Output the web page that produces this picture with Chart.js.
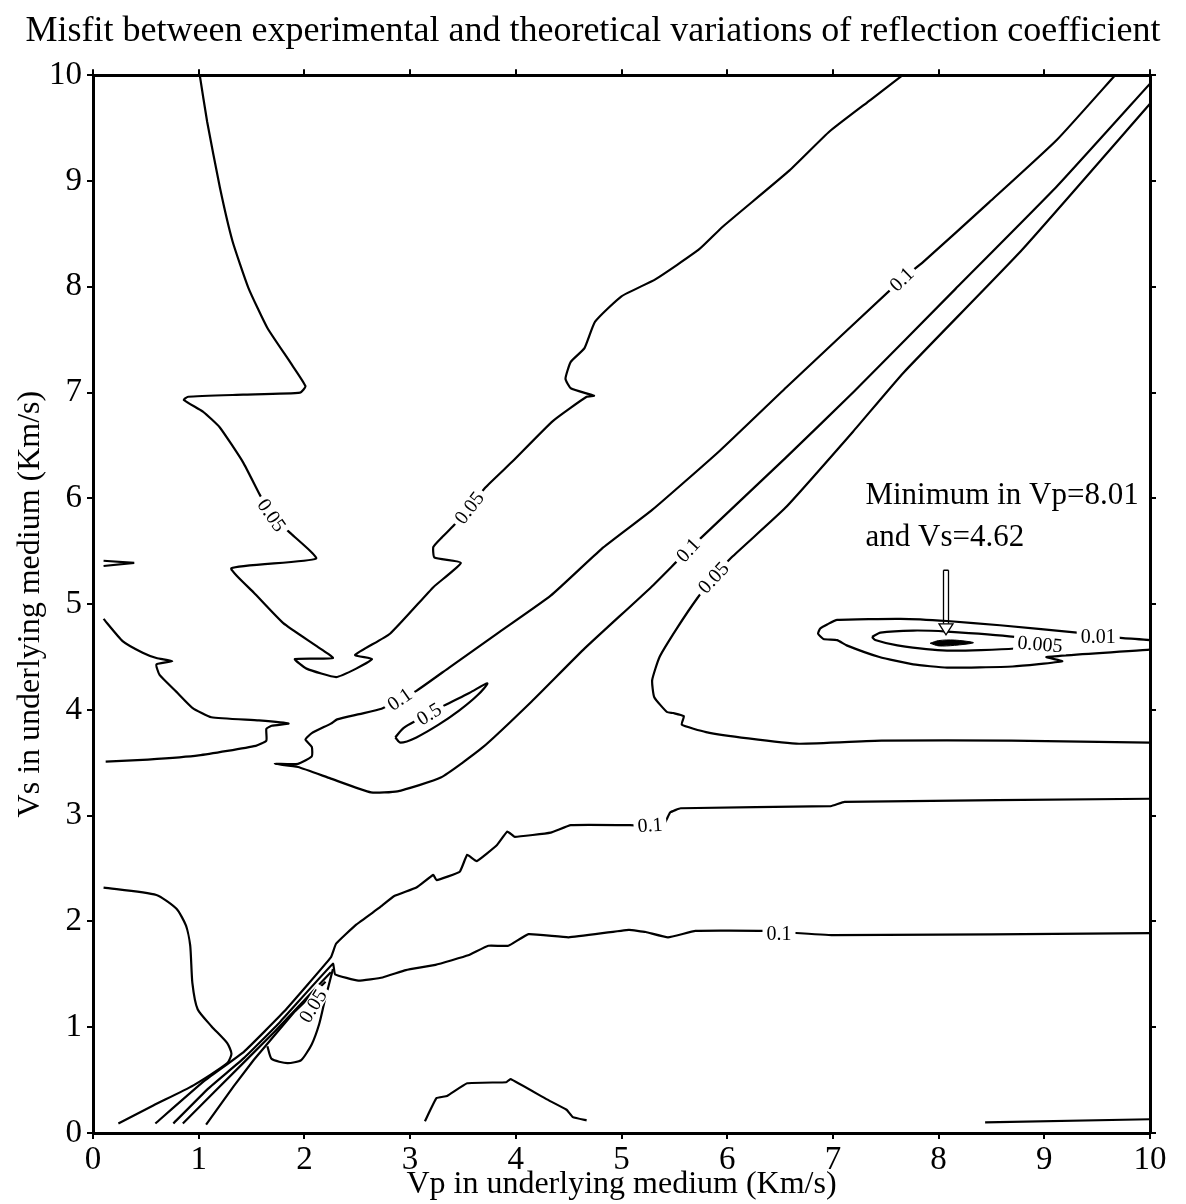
<!DOCTYPE html>
<html>
<head>
<meta charset="utf-8">
<title>Misfit contours</title>
<script src="https://cdn.jsdelivr.net/npm/chart.js@4.4.0/dist/chart.umd.min.js"></script>
<style>
  html, body { margin: 0; padding: 0; background: #fff; }
  #wrap { width: 1186px; height: 1204px; }
</style>
</head>
<body>
<div id="wrap"><canvas id="misfitChart" width="1186" height="1204"></canvas></div>
<script>
// tick labels
const xTickLabels = ['0', '1', '2', '3', '4', '5', '6', '7', '8', '9', '10'];
const yTickLabels = ['0', '1', '2', '3', '4', '5', '6', '7', '8', '9', '10'];

// contour lines, [Vp, Vs] pairs
const contourA = [[1.01,10.0],[1.08,9.56],[1.20,8.94],[1.32,8.43],[1.47,7.99],[1.65,7.61],[1.87,7.28],[2.01,7.06],[1.96,7.00],[1.42,6.98],[0.90,6.96],[0.86,6.93],[1.04,6.82],[1.20,6.67],[1.42,6.34],[1.58,6.03],[1.69,5.84],[1.88,5.66],[2.11,5.43],[1.31,5.34],[1.52,5.11],[1.80,4.82],[2.12,4.60],[2.27,4.49],[1.91,4.48],[2.02,4.39],[2.30,4.31],[2.49,4.39],[2.64,4.48],[2.48,4.52],[2.81,4.72],[3.22,5.16],[3.48,5.39],[3.23,5.44],[3.22,5.54],[3.30,5.63],[3.41,5.74],[3.56,5.91],[3.71,6.10],[3.97,6.35],[4.35,6.73],[4.67,6.96],[4.74,6.97],[4.52,7.04],[4.47,7.13],[4.52,7.29],[4.65,7.42],[4.75,7.67],[5.00,7.91],[5.32,8.07],[5.73,8.35],[5.96,8.57],[6.59,9.10],[6.97,9.47],[7.36,9.77],[7.66,10.0]];
const contourB = [[9.67,10.0],[9.12,9.39],[8.48,8.80],[7.85,8.23],[7.65,8.07],[6.56,7.05],[5.93,6.45],[5.29,5.89],[4.81,5.52],[4.33,5.08],[3.85,4.74],[3.37,4.40],[3.06,4.18],[2.90,4.10],[2.73,4.01],[2.52,3.96],[2.31,3.91],[2.25,3.87],[2.07,3.78],[2.01,3.72],[2.07,3.65],[2.07,3.56],[1.94,3.49],[1.72,3.49],[1.94,3.46],[2.25,3.35],[2.63,3.22],[2.88,3.23],[3.29,3.36],[3.68,3.64],[4.15,4.08],[4.64,4.57],[5.28,5.16],[5.63,5.51],[6.55,6.38],[7.20,7.01],[8.16,7.98],[9.12,8.95],[10.0,9.92]];
const contourC = [[10.0,9.73],[8.79,8.35],[7.67,7.19],[7.19,6.63],[6.55,5.91],[6.04,5.44],[5.87,5.25],[5.72,5.06],[5.53,4.78],[5.36,4.50],[5.29,4.28],[5.31,4.12],[5.43,3.98],[5.49,3.97],[5.59,3.94],[5.57,3.86],[5.80,3.79],[6.20,3.73],[6.68,3.68],[7.46,3.71],[8.69,3.71],[10.0,3.69]];
const contourD = [[10.0,3.16],[7.11,3.13],[6.98,3.09],[5.56,3.07],[5.46,3.03],[5.39,2.90],[5.08,2.91],[4.52,2.91],[4.33,2.84],[3.99,2.80],[3.92,2.85],[3.82,2.72],[3.63,2.57],[3.54,2.63],[3.47,2.47],[3.25,2.39],[3.22,2.44],[3.06,2.32],[2.85,2.24],[2.71,2.13],[2.49,1.97],[2.30,1.79],[2.25,1.66],[1.81,1.15],[1.43,0.77],[1.05,0.49],[0.59,0.09]];
const contourE = [[10.0,1.89],[7.00,1.87],[6.34,1.91],[5.70,1.91],[5.44,1.85],[5.23,1.90],[5.07,1.92],[4.50,1.85],[4.12,1.88],[3.93,1.77],[3.74,1.77],[3.55,1.68],[3.24,1.59],[2.96,1.54],[2.74,1.47],[2.51,1.44],[2.29,1.50],[2.27,1.60],[1.77,1.05],[1.43,0.71],[1.09,0.42],[0.76,0.09]];
const contour05 = [[2.86,3.74],[2.94,3.83],[3.08,3.91],[3.32,4.04],[3.56,4.16],[3.73,4.25],[3.64,4.14],[3.46,3.99],[3.27,3.86],[3.06,3.74],[2.91,3.69],[2.86,3.74]];
const fanLine3 = [[2.25,1.52],[1.72,0.96],[1.43,0.67],[1.14,0.38],[0.85,0.09]];
const fanLine4 = [[2.20,1.43],[1.91,1.15],[1.52,0.69],[1.33,0.44],[1.07,0.08]];
const smallLoop = [[1.65,0.82],[1.69,0.70],[1.84,0.66],[1.97,0.69],[2.07,0.84],[2.14,1.03],[2.19,1.24],[2.27,1.55]];
const contourL = [[0.10,2.32],[0.60,2.25],[0.79,2.12],[0.88,1.96],[0.92,1.77],[0.94,1.42],[0.99,1.17],[1.12,1.01],[1.27,0.85],[1.31,0.75],[1.27,0.66],[0.95,0.45],[0.57,0.26],[0.24,0.09]];
const contourM = [[0.10,4.86],[0.28,4.65],[0.47,4.54],[0.60,4.49],[0.75,4.46],[0.60,4.43],[0.63,4.33],[0.79,4.17],[0.94,4.02],[1.12,3.93],[1.57,3.90],[1.85,3.87],[1.69,3.85],[1.64,3.82],[1.64,3.71],[1.54,3.66],[1.00,3.57],[0.52,3.53],[0.12,3.51]];
const dashMark = [[0.10,5.41],[0.39,5.39],[0.10,5.36]];
const bottomHump = [[3.14,0.11],[3.25,0.33],[3.35,0.35],[3.54,0.47],[3.91,0.48],[3.95,0.51],[4.29,0.32],[4.48,0.22],[4.54,0.15],[4.67,0.12]];
const bottomRight = [[8.44,0.10],[10.0,0.13]];
const contour001 = [[10.0,4.57],[9.02,4.50],[9.17,4.46],[8.70,4.41],[8.08,4.40],[7.76,4.43],[7.44,4.50],[7.13,4.61],[7.04,4.66],[6.91,4.67],[6.86,4.72],[6.88,4.77],[6.95,4.81],[7.04,4.85],[7.64,4.86],[8.08,4.84],[8.58,4.80],[9.31,4.73],[9.72,4.68],[10.0,4.66]];
const contour0005 = [[7.37,4.69],[7.45,4.73],[7.76,4.75],[8.08,4.74],[8.72,4.69],[8.96,4.64],[8.72,4.58],[8.08,4.56],[7.61,4.61],[7.40,4.66],[7.37,4.69]];
const minimumCore = [[7.92,4.63],[8.00,4.655],[8.15,4.66],[8.33,4.635],[8.15,4.61],[8.00,4.605],[7.92,4.63]];

// contour labels (text, anchor in Vp/Vs)
const labelTexts = ['0.05', '0.05', '0.1', '0.5', '0.1', '0.1', '0.05', '0.1', '0.1', '0.05', '0.005', '0.01'];
const labelAnchors = [[1.69,5.84],[3.56,5.91],[2.90,4.10],[3.18,3.96],[7.65,8.07],[5.63,5.51],[5.87,5.25],[5.27,2.91],[6.49,1.88],[2.08,1.20],[8.96,4.62],[9.51,4.69]];
const labelAngles = [55, -52, -35, -32, -44, -47, -47, -4, 0, -58, 5, 0];

// minimum annotation
const minimumText = ['Minimum in Vp=8.01', 'and Vs=4.62'];
const minimumTextAnchors = [[8.60,6.02],[8.06,5.63]];
const arrowFrom = [8.07, 5.32];
const arrowTo = [8.06, 4.71];

const SERIF = "'Liberation Serif', 'Times New Roman', serif";
Chart.defaults.font.family = SERIF;
Chart.defaults.color = '#000';

const toXY = pts => pts.map(p => ({ x: p[0], y: p[1] }));

const lineSets = [
  [contourA, 0.15], [contourB, 0.15], [contourC, 0.15], [contourD, 0.1], [contourE, 0.1],
  [contour05, 0.3], [fanLine3, 0], [fanLine4, 0], [smallLoop, 0.2], [contourL, 0.2], [contourM, 0.15],
  [dashMark, 0], [bottomHump, 0.1], [bottomRight, 0], [contour001, 0.15], [contour0005, 0.2]
];

const datasets = lineSets.map(([pts, t]) => ({
  data: toXY(pts),
  showLine: true,
  borderColor: '#000',
  borderWidth: 2.2,
  pointRadius: 0,
  tension: t,
  fill: false
}));

datasets.push({
  data: toXY(minimumCore),
  showLine: true,
  borderColor: '#000',
  backgroundColor: '#000',
  borderWidth: 1,
  pointRadius: 0,
  tension: 0.3,
  fill: 'shape'
});

// labels on contours + minimum annotation
const contourLabelPlugin = {
  id: 'contourLabels',
  afterDatasetsDraw(chart) {
    const { ctx, scales: { x, y } } = chart;
    ctx.save();
    ctx.textAlign = 'center';
    ctx.textBaseline = 'middle';
    ctx.font = '20px ' + SERIF;
    labelTexts.forEach((t, i) => {
      const px = x.getPixelForValue(labelAnchors[i][0]);
      const py = y.getPixelForValue(labelAnchors[i][1]);
      ctx.save();
      ctx.translate(px, py);
      ctx.rotate(labelAngles[i] * Math.PI / 180);
      const w = ctx.measureText(t).width;
      ctx.fillStyle = '#fff';
      ctx.fillRect(-w / 2 - 4, -8, w + 8, 16);
      ctx.fillStyle = '#000';
      ctx.fillText(t, 0, 1);
      ctx.restore();
    });

    // annotation text
    ctx.font = '31px ' + SERIF;
    ctx.fillStyle = '#000';
    minimumText.forEach((t, i) => {
      ctx.fillText(t, x.getPixelForValue(minimumTextAnchors[i][0]), y.getPixelForValue(minimumTextAnchors[i][1]));
    });

    // hollow arrow
    const ax = x.getPixelForValue(arrowFrom[0]);
    const ay0 = y.getPixelForValue(arrowFrom[1]);
    const ay1 = y.getPixelForValue(arrowTo[1]);
    ctx.strokeStyle = '#000';
    ctx.lineWidth = 1.3;
    ctx.beginPath();
    ctx.moveTo(ax - 2.5, ay0); ctx.lineTo(ax - 2.5, ay1 - 11);
    ctx.moveTo(ax + 2.5, ay0); ctx.lineTo(ax + 2.5, ay1 - 11);
    ctx.moveTo(ax - 2.5, ay0); ctx.lineTo(ax + 2.5, ay0);
    ctx.stroke();
    ctx.beginPath();
    ctx.moveTo(ax - 7, ay1 - 11);
    ctx.lineTo(ax + 7, ay1 - 11);
    ctx.lineTo(ax, ay1);
    ctx.closePath();
    ctx.fillStyle = '#fff';
    ctx.fill();
    ctx.stroke();
    ctx.restore();
  }
};

const gridTicks = { display: true, drawOnChartArea: false, drawTicks: true, tickLength: 6, color: '#000', lineWidth: 2 };
const frameBorder = { display: true, color: '#000', width: 3 };

new Chart(document.getElementById('misfitChart'), {
  type: 'scatter',
  data: { datasets },
  options: {
    responsive: false,
    animation: false,
    layout: { padding: 0 },
    plugins: {
      legend: { display: false },
      tooltip: { enabled: false },
      title: {
        display: true,
        text: 'Misfit between experimental and theoretical variations of reflection coefficient',
        color: '#000',
        font: { family: SERIF, size: 36, weight: 'normal' },
        padding: { top: 10, bottom: 16 }
      }
    },
    scales: {
      x: {
        type: 'linear', position: 'bottom', min: 0, max: 10,
        ticks: { stepSize: 1, autoSkip: false, maxRotation: 0, padding: 2, color: '#000',
                 font: { family: SERIF, size: 33 }, callback: (v, i) => xTickLabels[i] },
        grid: gridTicks, border: frameBorder,
        title: { display: true, text: 'Vp in underlying medium (Km/s)', color: '#000',
                 font: { family: SERIF, size: 32 }, padding: { top: 0, bottom: 0 } },
        afterFit: s => { s.height = 71; }
      },
      y: {
        type: 'linear', position: 'left', min: 0, max: 10,
        ticks: { stepSize: 1, autoSkip: false, padding: 5, color: '#000',
                 font: { family: SERIF, size: 33 }, callback: (v, i) => yTickLabels[i] },
        grid: gridTicks, border: frameBorder,
        title: { display: true, text: 'Vs in underlying medium (Km/s)', color: '#000',
                 font: { family: SERIF, size: 32 }, padding: { top: 11, bottom: 0 } },
        afterFit: s => { s.width = 93; }
      },
      x2: {
        type: 'linear', position: 'top', min: 0, max: 10,
        ticks: { stepSize: 1, display: false },
        grid: gridTicks, border: frameBorder,
        afterFit: s => { s.height = 6; }
      },
      y2: {
        type: 'linear', position: 'right', min: 0, max: 10,
        ticks: { stepSize: 1, display: false },
        grid: gridTicks, border: frameBorder,
        afterFit: s => { s.width = 36; }
      }
    }
  },
  plugins: [contourLabelPlugin]
});
</script>
</body>
</html>
